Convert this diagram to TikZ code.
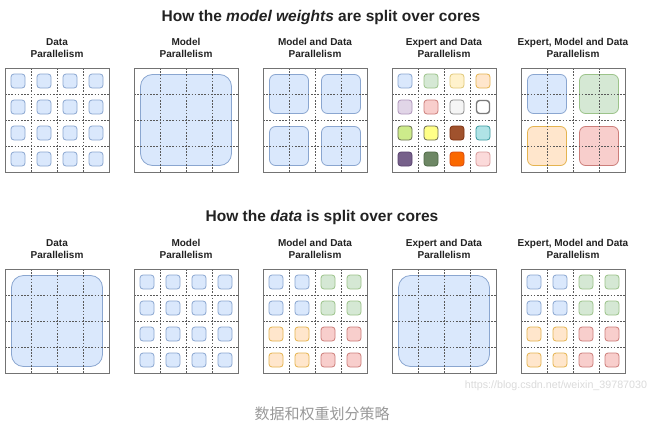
\documentclass[tikz,border=0pt]{standalone}
\usepackage{fontspec}
\setmainfont{Liberation Sans}
\newfontfamily\cjk{Noto Sans CJK SC}
\definecolor{blueF}{HTML}{DAE8FC}\definecolor{blueD}{HTML}{8AA6D0}
\definecolor{greenF}{HTML}{D5E8D4}\definecolor{greenD}{HTML}{9CC38A}
\definecolor{yellowF}{HTML}{FFF2CC}\definecolor{yellowD}{HTML}{E0C878}
\definecolor{orangeF}{HTML}{FFE6CC}\definecolor{orangeD}{HTML}{E5B450}
\definecolor{purpleF}{HTML}{E1D5E7}\definecolor{purpleD}{HTML}{AE94BA}
\definecolor{redF}{HTML}{F8CECC}\definecolor{redD}{HTML}{CC7E7A}
\definecolor{grayF}{HTML}{F5F5F5}\definecolor{grayD}{HTML}{8A8A8A}
\definecolor{whiteF}{HTML}{FFFFFF}\definecolor{whiteD}{HTML}{7A7A7A}
\definecolor{limeF}{HTML}{CDEB8B}\definecolor{limeD}{HTML}{6A7050}
\definecolor{lyelF}{HTML}{FFFF88}\definecolor{lyelD}{HTML}{6A6A50}
\definecolor{brownF}{HTML}{A0522D}\definecolor{brownD}{HTML}{7D3010}
\definecolor{tealF}{HTML}{B0E3E6}\definecolor{tealD}{HTML}{3A9AA0}
\definecolor{dpurpF}{HTML}{76608A}\definecolor{dpurpD}{HTML}{5A4370}
\definecolor{dgreenF}{HTML}{6D8764}\definecolor{dgreenD}{HTML}{4E6A45}
\definecolor{vorangeF}{HTML}{FA6800}\definecolor{vorangeD}{HTML}{D84A10}
\definecolor{pinkF}{HTML}{FBDADA}\definecolor{pinkD}{HTML}{D89A9A}
\definecolor{txt}{HTML}{222222}
\newcommand\pgrid[2]{%
  \foreach \k in {1,2,3} {
    \draw[gridline] ({#1+26*\k},{#2}) -- ({#1+26*\k},{#2+104});
    \draw[gridline] ({#1},{#2+26*\k}) -- ({#1+104},{#2+26*\k});
  }
  \draw[frame] ({#1},{#2}) rectangle ({#1+104},{#2+104});
}
\newcommand\sq[5]{\draw[blk=#1, rounded corners=3pt] ({#2+6+26*(#4)},{#3+6+26*(#5)}) rectangle ++(14,14);}
\newcommand\qblk[5]{\draw[blk=#1, rounded corners=6pt] ({#2+6.5+52*(#4)},{#3+6.5+52*(#5)}) rectangle ++(39,39);}
\newcommand\bigblk[3]{\draw[blk=#1, rounded corners=12pt] ({#2+6.5},{#3+6.5}) rectangle ++(91,91);}
\begin{document}
\begin{tikzpicture}[x=1pt,y=-1pt,
  frame/.style={draw=black!55, line width=0.9pt},
  gridline/.style={draw=black!65, line width=0.6pt, dash pattern=on 1.6pt off 1.6pt},
  blk/.style={fill=#1F, draw=#1D, line width=0.8pt},
  title/.style={text=txt, font=\fontsize{15.5}{18}\selectfont\bfseries, inner sep=0pt},
  lbl/.style={text=txt, align=center, font=\fontsize{10}{12}\selectfont\bfseries, inner sep=0pt}]
\useasboundingbox[fill=white] (0,0) rectangle (658,439);

% ---------- titles ----------
\node[title] (t1) at (321,17) {How the \textit{model weights} are split over cores};
\node[title] (t2) at (322,217) {How the \textit{data} is split over cores};

% ---------- labels ----------
\foreach \y/\r in {48/a,249/b} {
  \node[lbl] (l1\r) at (57,\y) {Data\\Parallelism};
  \node[lbl] (l2\r) at (186,\y) {Model\\Parallelism};
  \node[lbl] (l3\r) at (315,\y) {Model and Data\\Parallelism};
  \node[lbl] (l4\r) at (444,\y) {Expert and Data\\Parallelism};
  \node[lbl] (l5\r) at (573,\y) {Expert, Model and Data\\Parallelism};
}

% ---------- top row ----------
\foreach \i in {0,...,3} \foreach \j in {0,...,3} {\sq{blue}{5}{68}{\i}{\j}}
\pgrid{5}{68}
\bigblk{blue}{134}{68}
\pgrid{134}{68}
\foreach \i in {0,1} \foreach \j in {0,1} {\qblk{blue}{263}{68}{\i}{\j}}
\pgrid{263}{68}
\sq{blue}{392}{68}{0}{0}\sq{green}{392}{68}{1}{0}\sq{yellow}{392}{68}{2}{0}\sq{orange}{392}{68}{3}{0}
\sq{purple}{392}{68}{0}{1}\sq{red}{392}{68}{1}{1}\sq{gray}{392}{68}{2}{1}
\draw[fill=whiteF, draw=whiteD, line width=1.4pt, rounded corners=3pt] (476.5,100.5) rectangle ++(13,13);
\sq{lime}{392}{68}{0}{2}\sq{lyel}{392}{68}{1}{2}\sq{brown}{392}{68}{2}{2}\sq{teal}{392}{68}{3}{2}
\sq{dpurp}{392}{68}{0}{3}\sq{dgreen}{392}{68}{1}{3}\sq{vorange}{392}{68}{2}{3}\sq{pink}{392}{68}{3}{3}
\pgrid{392}{68}
\qblk{blue}{521}{68}{0}{0}\qblk{green}{521}{68}{1}{0}
\qblk{orange}{521}{68}{0}{1}\qblk{red}{521}{68}{1}{1}
\pgrid{521}{68}

% ---------- bottom row ----------
\bigblk{blue}{5}{269}
\pgrid{5}{269}
\foreach \i in {0,...,3} \foreach \j in {0,...,3} {\sq{blue}{134}{269}{\i}{\j}}
\pgrid{134}{269}
\foreach \x in {263,521} {
  \foreach \i in {0,1} \foreach \j in {0,1} {
    \sq{blue}{\x}{269}{\i}{\j}
    \sq{green}{\x}{269}{\i+2}{\j}
    \sq{orange}{\x}{269}{\i}{\j+2}
    \sq{red}{\x}{269}{\i+2}{\j+2}
  }
  \pgrid{\x}{269}
}
\bigblk{blue}{392}{269}
\pgrid{392}{269}

% ---------- watermark and caption ----------
\node[text=black!14, font=\fontsize{10.7}{12}\selectfont, inner sep=0pt] (wm) at (556,386) {https://blog.csdn.net/weixin\_39787030};
\node[text=black!40, font=\cjk\fontsize{15}{17}\selectfont, inner sep=0pt] (cap) at (322,414) {数据和权重划分策略};
\end{tikzpicture}
\end{document}
